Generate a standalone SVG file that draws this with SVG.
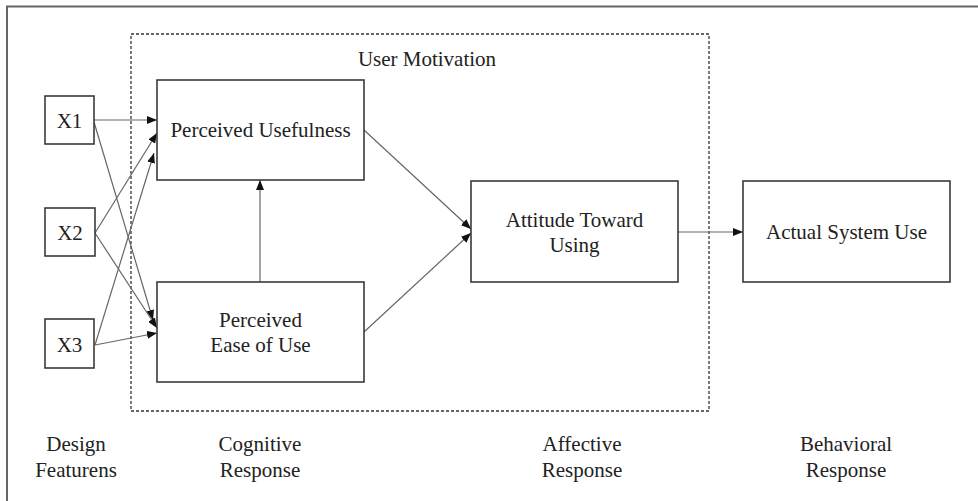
<svg xmlns="http://www.w3.org/2000/svg" width="978" height="501" viewBox="0 0 978 501">
<style>
.box{fill:#fff;stroke:#3a3a3a;stroke-width:1.6}
.t{font-family:"Liberation Serif","Times New Roman",serif;font-size:21px;fill:#222;text-anchor:middle}
.c{stroke:#666;stroke-width:1.2;fill:none;marker-end:url(#ah)}
</style>
<defs>
<marker id="ah" viewBox="0 0 10 8" refX="10" refY="4" markerWidth="10" markerHeight="8" markerUnits="userSpaceOnUse" orient="auto">
<path d="M0,0 L10,4 L0,8 Z" fill="#111"/>
</marker>
</defs>
<rect width="978" height="501" fill="#fff"/>
<g id="frame">
<path d="M7,501 V6.5 H978" fill="none" stroke="#666" stroke-width="2"/>
</g>
<g id="user-motivation">
<rect x="131" y="34" width="578" height="377" fill="none" stroke="#333" stroke-width="1.3" stroke-dasharray="3,2"/>
<text class="t" x="427" y="66">User Motivation</text>
</g>
<g id="connectors">
<line class="c" x1="94" y1="120" x2="157" y2="120"/>
<line class="c" x1="94" y1="122" x2="153" y2="320"/>
<line class="c" x1="95" y1="233" x2="157" y2="133"/>
<line class="c" x1="95" y1="233" x2="157" y2="328"/>
<line class="c" x1="95" y1="345" x2="154" y2="153"/>
<line class="c" x1="95" y1="345" x2="157" y2="333"/>
<line class="c" x1="260" y1="282" x2="260" y2="180"/>
<line class="c" x1="364" y1="130" x2="471" y2="229"/>
<line class="c" x1="364" y1="332" x2="471" y2="233"/>
<line class="c" x1="678" y1="232" x2="743" y2="232"/>
</g>
<g id="x1"><rect class="box" x="45" y="96" width="49" height="48"/><text class="t" x="69.5" y="128">X1</text></g>
<g id="x2"><rect class="box" x="45" y="208" width="50" height="48"/><text class="t" x="70" y="240">X2</text></g>
<g id="x3"><rect class="box" x="45" y="319" width="49" height="49"/><text class="t" x="69.5" y="352">X3</text></g>
<g id="perceived-usefulness"><rect class="box" x="157" y="80" width="207" height="100"/><text class="t" x="260.5" y="137">Perceived Usefulness</text></g>
<g id="perceived-ease-of-use"><rect class="box" x="157" y="282" width="207" height="100"/><text class="t" x="260.5" y="327">Perceived</text><text class="t" x="260.5" y="352">Ease of Use</text></g>
<g id="attitude-toward-using"><rect class="box" x="471" y="181" width="207" height="101"/><text class="t" x="574.5" y="227">Attitude Toward</text><text class="t" x="574.5" y="252">Using</text></g>
<g id="actual-system-use"><rect class="box" x="743" y="181" width="207" height="101"/><text class="t" x="846.5" y="239">Actual System Use</text></g>
<g id="labels">
<text class="t" x="76" y="451">Design</text><text class="t" x="76" y="477">Featurens</text>
<text class="t" x="260" y="451">Cognitive</text><text class="t" x="260" y="477">Response</text>
<text class="t" x="582" y="451">Affective</text><text class="t" x="582" y="477">Response</text>
<text class="t" x="846" y="451">Behavioral</text><text class="t" x="846" y="477">Response</text>
</g>
</svg>
